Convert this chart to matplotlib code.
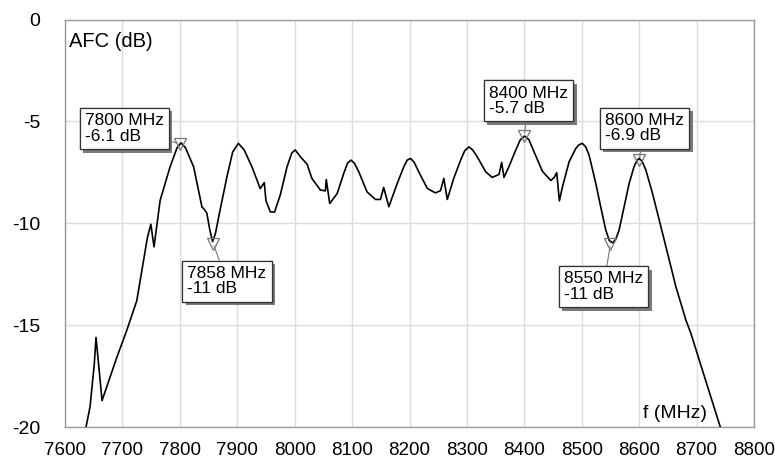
import matplotlib
matplotlib.use("Agg")
import matplotlib.pyplot as plt
import matplotlib.patheffects as pe

plt.rcParams['font.family'] = ['Liberation Sans', 'DejaVu Sans']

# ---- data ----
freq = [7633, 7636.6, 7643.6, 7651, 7654, 7664.5, 7690, 7707.6, 7725, 7743.5,
        7749.5, 7755, 7765.7, 7783, 7795, 7802, 7810, 7824, 7838.5, 7842,
        7847, 7852, 7857, 7862, 7870, 7882, 7892, 7902, 7912, 7925.6,
        7940, 7947, 7950, 7957.6, 7965, 7975, 7986.7, 7995, 8001, 8010,
        8021.6, 8030, 8044.8, 8053.5, 8055, 8061, 8074, 8085.5, 8092, 8098,
        8104, 8111.6, 8126, 8140.7, 8149.4, 8155, 8164, 8178.5, 8190, 8196,
        8201.8, 8208, 8216, 8231, 8245, 8254, 8259.8, 8265.8, 8277, 8289,
        8296, 8303.5, 8310, 8318, 8332.6, 8344, 8356, 8360.5, 8364.5, 8373,
        8385, 8393, 8400.6, 8408, 8417, 8431.5, 8446, 8452, 8456.4, 8461,
        8466.4, 8478, 8489.6, 8495, 8501, 8507, 8512.8, 8524.5, 8533, 8541.9,
        8548, 8553.5, 8559, 8565, 8573.8, 8582.5, 8591, 8596, 8600, 8605,
        8611.7, 8623.3, 8635, 8649.5, 8664, 8681.5, 8690, 8741.3, 8745]
afc = [-20.6, -20.0, -19.0, -16.9, -15.6, -18.7, -16.6, -15.25, -13.8, -10.7,
       -10.05, -11.16, -8.87, -7.23, -6.3, -6.05, -6.3, -7.23, -9.2, -9.3,
       -9.5, -10.3, -10.9, -10.5, -9.36, -7.72, -6.5, -6.08, -6.4, -7.23,
       -8.3, -8.0, -8.9, -9.44, -9.45, -8.6, -7.23, -6.55, -6.4, -6.74,
       -7.1, -7.8, -8.37, -8.41, -7.85, -9.03, -8.54, -7.55, -7.05, -6.9,
       -7.05, -7.47, -8.46, -8.83, -8.83, -8.24, -9.19, -8.05, -7.23, -6.9,
       -6.82, -7.0, -7.47, -8.29, -8.51, -8.4, -7.8, -8.83, -7.8, -6.9,
       -6.45, -6.25, -6.4, -6.74, -7.47, -7.75, -7.6, -7.01, -7.75, -7.23,
       -6.41, -5.9, -5.72, -5.9, -6.5, -7.45, -7.9, -7.75, -7.52, -8.9,
       -8.21, -6.98, -6.33, -6.15, -6.08, -6.25, -6.66, -8.05, -9.19, -10.34,
       -10.85, -10.96, -10.8, -10.34, -9.19, -8.05, -7.23, -6.92, -6.82, -6.95,
       -7.39, -8.54, -9.85, -11.48, -13.12, -14.76, -15.4, -20.0, -20.35]

marker_f = [7800, 7858, 8400, 8550, 8600]
marker_db = [-6.1, -11, -5.7, -11, -6.9]

x_ticks = [7600, 7700, 7800, 7900, 8000, 8100, 8200, 8300, 8400, 8500, 8600, 8700, 8800]
y_ticks = [0, -5, -10, -15, -20]

# ---- layout (label box offsets in points, relative to marker) ----
label_offsets = [(-40, 11), (10, -27), (3, 25), (-5, -31), (4, 23)]

fig = plt.figure(figsize=(7.75, 4.65), dpi=100)
ax = fig.add_axes([0.0839, 0.0817, 0.8890, 0.8763])

ax.plot(freq, afc, color='black', lw=1.2, zorder=3)
ax.set_xlim(7600, 8800)
ax.set_ylim(-20, 0)
ax.set_xticks(x_ticks)
ax.set_yticks(y_ticks)
ax.set_xticklabels([str(v) for v in x_ticks])
ax.set_yticklabels([f"{v:g}" for v in y_ticks])
ax.tick_params(axis='x', length=0, pad=11, labelsize=13.5)
ax.tick_params(axis='y', length=0, pad=18, labelsize=14)
ax.grid(True, color='#dcdcdc', lw=1.0)
ax.set_axisbelow(True)
for s in ax.spines.values():
    s.set_color('#9a9a9a')
    s.set_linewidth(1.0)

ax.plot(marker_f, marker_db, linestyle='none', marker='v', markersize=8,
        markerfacecolor='none', markeredgecolor='#777777', markeredgewidth=0.9, zorder=4)

for f, d, off in zip(marker_f, marker_db, label_offsets):
    t = ax.annotate(f"{f} MHz\n{d:g} dB", xy=(f, d), xytext=off,
                    textcoords='offset points', ha='center', va='center',
                    multialignment='left',
                    fontsize=12.5, linespacing=1.05, zorder=6,
                    bbox=dict(boxstyle='square,pad=0.3', fc='white', ec='#333333', lw=0.9),
                    arrowprops=dict(arrowstyle='-', color='#777777', lw=0.8,
                                    shrinkA=0, shrinkB=2))
    t.get_bbox_patch().set_path_effects([
        pe.withSimplePatchShadow(offset=(2.5, -2.5), shadow_rgbFace='#7a7a7a', alpha=1.0),
        pe.Normal()])

ax.text(0.006, 0.9455, "AFC (dB)", transform=ax.transAxes, ha='left', va='center',
        fontsize=14.5)
ax.text(0.932, 0.034, "f (MHz)", transform=ax.transAxes, ha='right', va='center',
        fontsize=14)

fig.savefig("out.png", dpi=100)
